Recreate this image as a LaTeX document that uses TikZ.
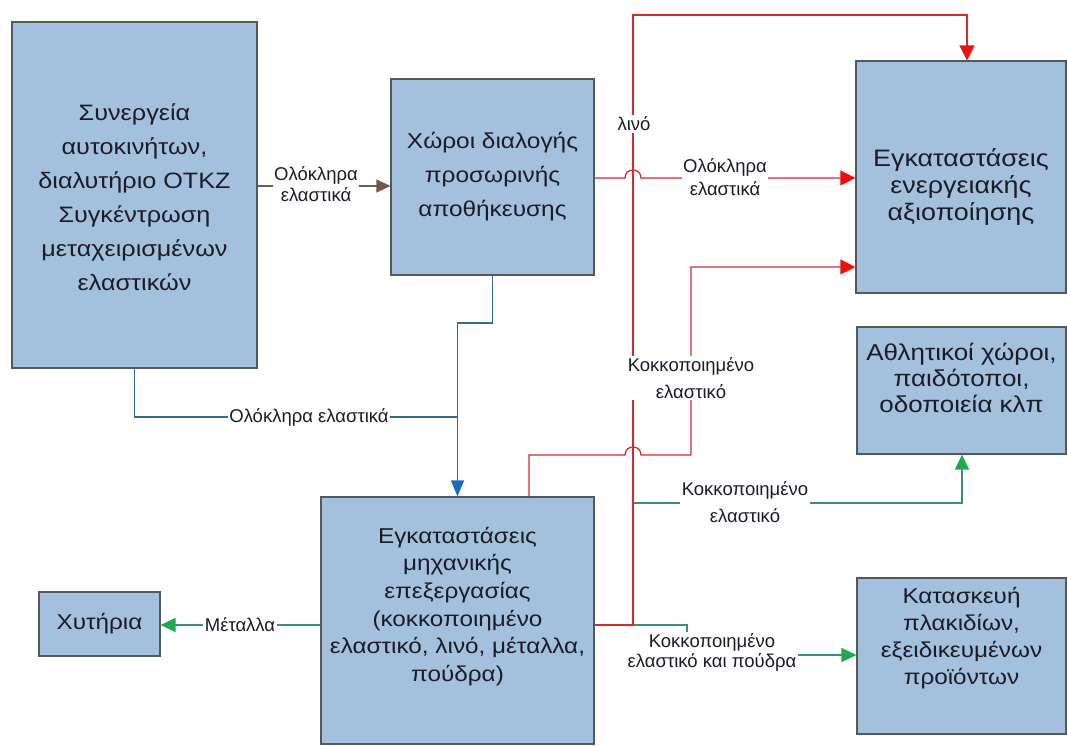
\documentclass[tikz,border=0pt]{standalone}
\usepackage{fontspec}
\setmainfont{Liberation Sans}
\newfontfamily\bxfont[FakeStretch=1.13]{Liberation Sans}
\usetikzlibrary{arrows.meta}
\definecolor{boxfill}{HTML}{A3C0DC}
\definecolor{boxline}{HTML}{50595F}
\definecolor{lred}{HTML}{D42A2A}
\definecolor{ared}{HTML}{EE1010}
\definecolor{lgreen}{HTML}{3A9070}
\definecolor{agreen}{HTML}{20A850}
\definecolor{lblue}{HTML}{2E6E95}
\definecolor{ablue}{HTML}{1A6CC0}
\definecolor{lbrown}{HTML}{6E5A55}
\definecolor{abrown}{HTML}{7A5550}
\definecolor{txt}{HTML}{1C1C28}
\begin{document}
\begin{tikzpicture}[x=1pt,y=-1pt,
  box/.style={draw=boxline, fill=boxfill, line width=1.2pt, inner sep=0pt},
  btext/.style={text=txt, align=center},
  lab/.style={font=\fontsize{18.5}{21}\selectfont, fill=white, inner sep=1.5pt, align=center, text=txt},
  conn/.style={line width=1.3pt},
  tipred/.style={-{Triangle[length=15pt,width=15pt,color=ared]}},
  tipgreen/.style={-{Triangle[length=15pt,width=14pt,color=agreen]}},
  tipblue/.style={-{Triangle[length=16pt,width=13pt,color=ablue]}},
  tipbrown/.style={-{Triangle[length=14pt,width=13pt,color=abrown]}}
]
\useasboundingbox (0,0) rectangle (1067,746);

% boxes
\node[box, minimum width=245, minimum height=346,
  label={[btext, font=\bxfont\fontsize{22.3}{34}\selectfont, yshift=-2pt]center:{Συνεργεία\\αυτοκινήτων,\\διαλυτήριο ΟΤΚΖ\\Συγκέντρωση\\μεταχειρισμένων\\ελαστικών}}] (A) at (134.5,195) {};
\node[box, minimum width=203, minimum height=196,
  label={[btext, font=\bxfont\fontsize{21.6}{34}\selectfont]center:{Χώροι διαλογής\\προσωρινής\\αποθήκευσης}}] (B) at (492.5,177) {};
\node[box, minimum width=210, minimum height=232,
  label={[btext, font=\bxfont\fontsize{23.8}{27}\selectfont, yshift=-10pt]center:{Εγκαταστάσεις\\ενεργειακής\\αξιοποίησης}}] (E) at (961,177) {};
\node[box, minimum width=209, minimum height=127,
  label={[btext, font=\bxfont\fontsize{23}{26}\selectfont, yshift=13pt]center:{Αθλητικοί χώροι,\\παιδότοποι,\\οδοποιεία κλπ}}] (S) at (961.5,390.5) {};
\node[box, minimum width=209, minimum height=156,
  label={[btext, font=\bxfont\fontsize{21.5}{27}\selectfont, yshift=18pt]center:{Κατασκευή\\πλακιδίων,\\εξειδικευμένων\\προϊόντων}}] (K) at (961.5,656) {};
\node[box, minimum width=273, minimum height=247,
  label={[btext, font=\bxfont\fontsize{21.5}{27.6}\selectfont, yshift=14pt]center:{Εγκαταστάσεις\\μηχανικής\\επεξεργασίας\\(κοκκοποιημένο\\ελαστικό, λινό, μέταλλα,\\πούδρα)}}] (M) at (457.5,620.5) {};
\node[box, minimum width=121, minimum height=64,
  label={[btext, font=\bxfont\fontsize{21.5}{27}\selectfont]center:{Χυτήρια}}] (X) at (99.5,624) {};

% green connectors (under red)
\draw[conn, lgreen, tipgreen] (M.east |- 0,625) -- (633,625) -- (633,503) -- (962,503) -- (S.south -| 962,0);
\draw[conn, lgreen, tipgreen] (M.east |- 0,625) -- (687,625) -- (687,655) -- (K.west |- 0,655);
\draw[conn, lgreen, tipgreen] (M.west |- 0,625) -- (X.east |- 0,625);

% red connectors
\draw[conn, lred, tipred] (M.east |- 0,625) -- (633,625) -- (633,15) -- (967,15) -- (E.north -| 967,0);
\draw[conn, lred, tipred] (B.east |- 0,178) -- (625,178) .. controls (625,167.3) and (641,167.3) .. (641,178) -- (E.west |- 0,178);
\draw[conn, lred, tipred] (M.north -| 529,0) -- (529,455) -- (625,455) .. controls (625,444.3) and (641,444.3) .. (641,455) -- (691,455) -- (691,267) -- (E.west |- 0,267);

% blue connectors
\draw[conn, lblue] (A.south) -- (A.south |- 0,417) -- (M.north |- 0,417);
\draw[conn, lblue, tipblue] (B.south) -- (B.south |- 0,323) -- (M.north |- 0,323) -- (M.north);

% brown connector
\draw[conn, lbrown, tipbrown] (A.east |- 0,186) -- (B.west |- 0,186);

% labels
\node[lab, font=\fontsize{18.5}{21}\selectfont] (l1) at (316,184) {Ολόκληρα\\ελαστικά};
\node[lab, font=\fontsize{18.5}{23}\selectfont] (l2) at (725,177.5) {Ολόκληρα\\ελαστικά};
\node[lab] (l3) at (634,124) {λινό};
\node[lab, font=\fontsize{18.5}{27}\selectfont] (l4) at (691,378) {Κοκκοποιημένο\\ελαστικό};
\node[lab, font=\fontsize{18.5}{27}\selectfont] (l5) at (745,502) {Κοκκοποιημένο\\ελαστικό};
\node[lab, font=\fontsize{18.5}{20}\selectfont] (l6) at (712,652) {Κοκκοποιημένο\\ελαστικό και πούδρα};
\node[lab] (l7) at (309,417) {Ολόκληρα ελαστικά};
\node[lab] (l8) at (240,625) {Μέταλλα};
\end{tikzpicture}
\end{document}
